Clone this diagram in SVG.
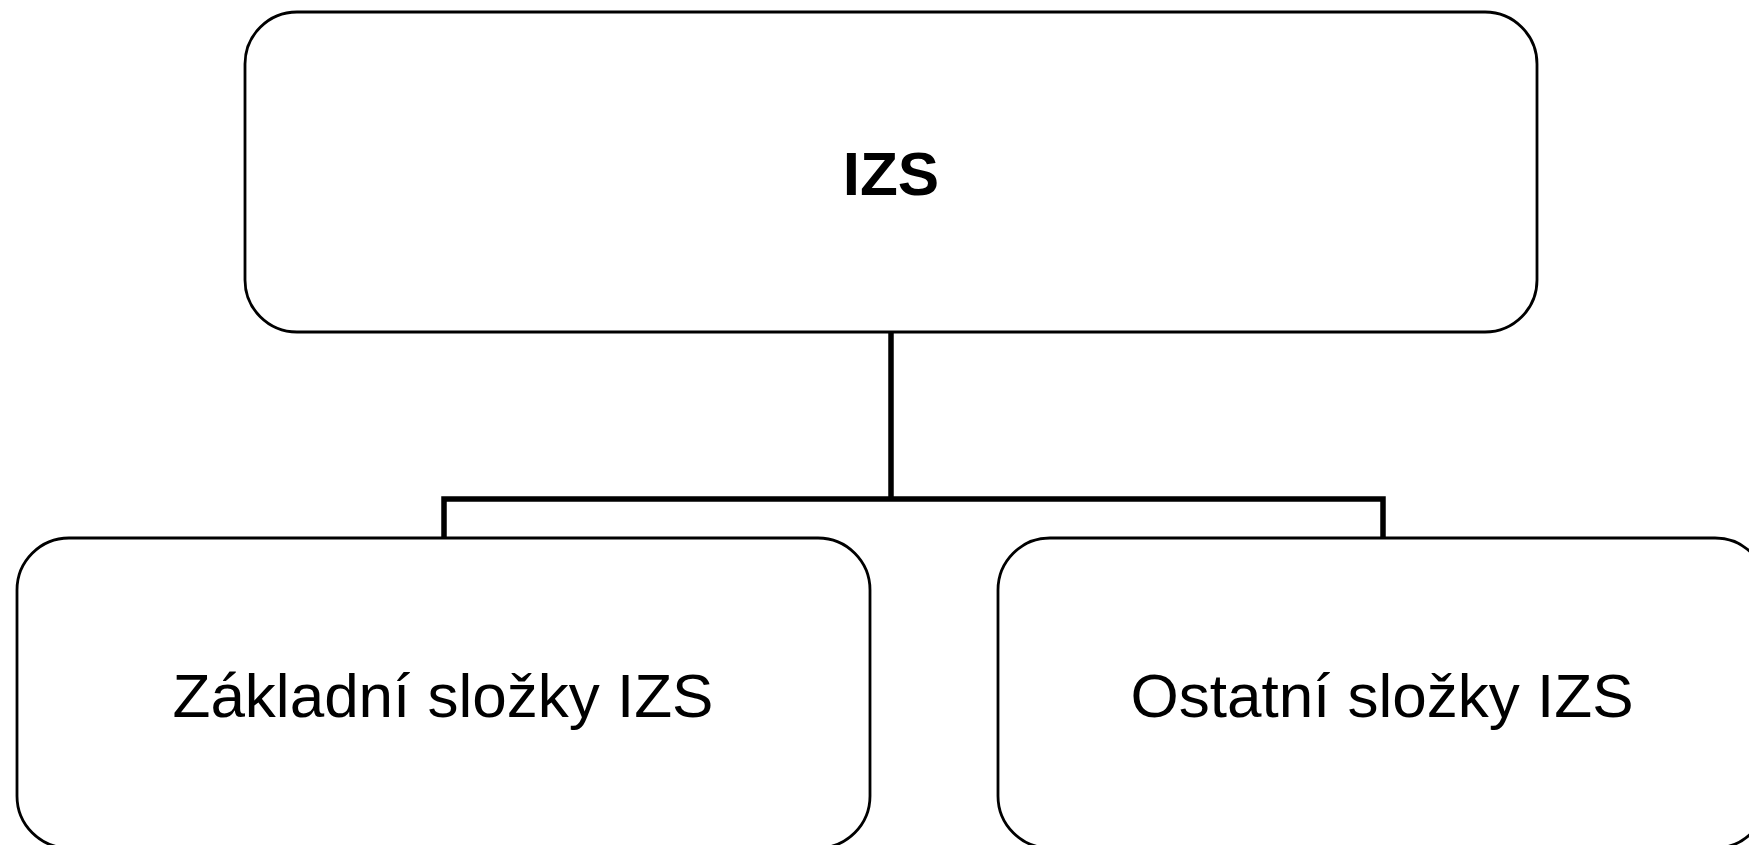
<svg xmlns="http://www.w3.org/2000/svg" width="1749" height="845" viewBox="0 0 1749 845">
<style>
.box{fill:#fff;stroke:#000;stroke-width:2.8}
.conn{fill:none;stroke:#000;stroke-width:5.5;stroke-linejoin:miter}
.t{font-family:"Liberation Sans",Arial,sans-serif;font-size:62px;fill:#000;text-anchor:middle}
</style>
<rect width="1749" height="845" fill="#fff"/>
<g id="connectors">
<path class="conn" d="M891,332 V499"/>
<path class="conn" d="M444,537 V499 H1383 V537"/>
</g>
<g id="node-izs">
<rect class="box" x="245" y="12" width="1292" height="320" rx="52" ry="52"/>
<text class="t" x="891" y="195" font-weight="bold">IZS</text>
</g>
<g id="node-zakladni">
<rect class="box" x="17" y="538" width="853" height="310" rx="52" ry="52"/>
<text class="t" x="443" y="717">Základní složky IZS</text>
</g>
<g id="node-ostatni">
<rect class="box" x="998" y="538" width="769" height="310" rx="52" ry="52"/>
<text class="t" x="1382" y="717">Ostatní složky IZS</text>
</g>
</svg>
